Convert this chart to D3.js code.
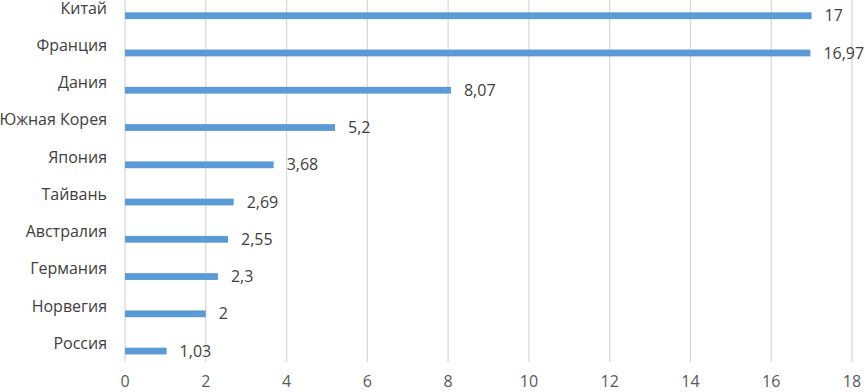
<!DOCTYPE html>
<html>
<head>
<meta charset="utf-8">
<script src="https://cdn.jsdelivr.net/npm/d3@7"></script>
<style>
  body { margin: 0; background: #fff; }
  svg { display: block; font-family: "Open Sans", sans-serif; }
</style>
</head>
<body>
<script>
// Chart data
const countries = ["Китай", "Франция", "Дания", "Южная Корея", "Япония", "Тайвань", "Австралия", "Германия", "Норвегия", "Россия"];
const values = [17, 16.97, 8.07, 5.2, 3.68, 2.69, 2.55, 2.3, 2, 1.03];
const ticks = [0, 2, 4, 6, 8, 10, 12, 14, 16, 18];

const w = 865;
const h = 392;

const svg = d3.select("body")
  .append("svg")
  .attr("width", w)
  .attr("height", h);

// Scales
const x = d3.scaleLinear()
  .domain([0, 18])
  .range([125, 852]);

const y = d3.scaleBand()
  .domain(countries)
  .range([-10.6, 362]);

// Vertical gridlines
svg.append("g")
  .selectAll("line")
  .data(ticks)
  .enter()
  .append("line")
  .attr("x1", d => x(d))
  .attr("x2", d => x(d))
  .attr("y1", -11)
  .attr("y2", 362)
  .attr("stroke", "#d9d9d9")
  .attr("stroke-width", 1.3);

// Tick labels
svg.append("g")
  .selectAll("text")
  .data(ticks)
  .enter()
  .append("text")
  .attr("x", d => x(d))
  .attr("y", 387)
  .attr("text-anchor", "middle")
  .attr("font-size", "16px")
  .attr("fill", "#595959")
  .text(d => d);

// Category labels
svg.append("g")
  .selectAll("text")
  .data(countries)
  .enter()
  .append("text")
  .attr("x", 107)
  .attr("y", d => y(d) + y.bandwidth() / 2)
  .attr("dy", "0.35em")
  .attr("text-anchor", "end")
  .attr("font-size", "16px")
  .attr("fill", "#404040")
  .text(d => d);

// Bars
const data = countries.map((c, i) => ({ country: c, value: values[i] }));

svg.append("g")
  .selectAll("rect")
  .data(data)
  .enter()
  .append("rect")
  .attr("x", x(0))
  .attr("y", d => y(d.country) + y.bandwidth() / 2 + 4.3)
  .attr("width", d => x(d.value) - x(0))
  .attr("height", 6.8)
  .attr("fill", "#5b9bd5");

// Value labels
svg.append("g")
  .selectAll("text")
  .data(data)
  .enter()
  .append("text")
  .attr("x", d => x(d.value) + 13)
  .attr("y", d => y(d.country) + y.bandwidth() / 2 + 7.7)
  .attr("dy", "0.35em")
  .attr("font-size", "16px")
  .attr("fill", "#404040")
  .text(d => String(d.value).replace(".", ","));
</script>
</body>
</html>
